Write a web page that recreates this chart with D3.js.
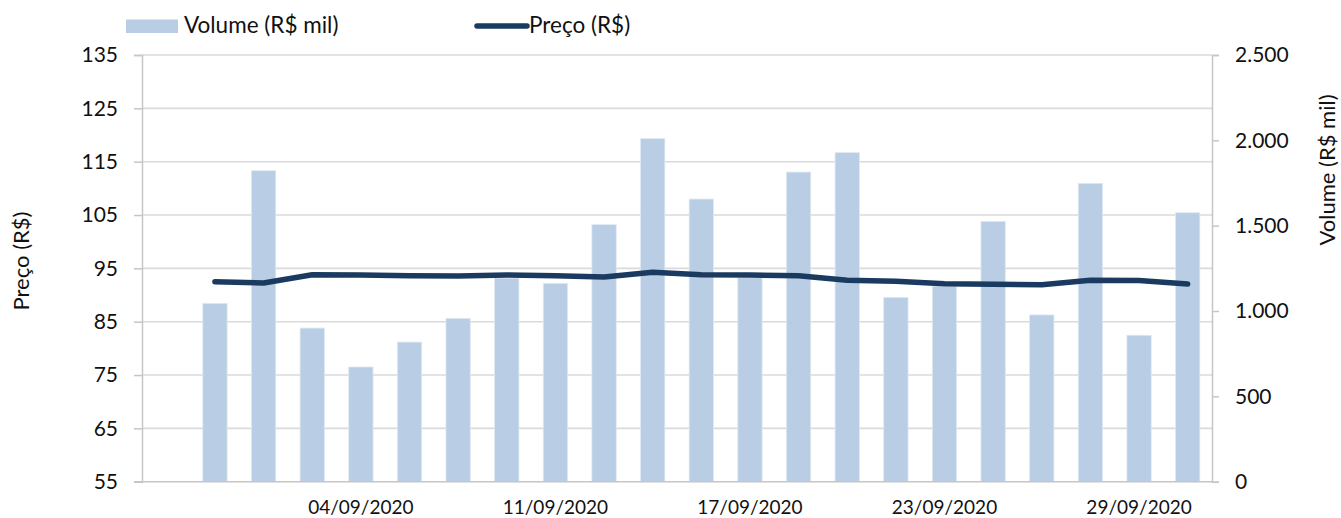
<!DOCTYPE html>
<html>
<head>
<meta charset="utf-8">
<script src="https://cdn.jsdelivr.net/npm/d3@7"></script>
<style>
  body { margin: 0; background: #fff; }
  text { font-family: Lato, "Open Sans", sans-serif; fill: #111; }
</style>
</head>
<body>
<script>
// categories (first one is blank in the source sheet)
const dates = ["", "01/09/2020", "02/09/2020", "03/09/2020", "04/09/2020", "08/09/2020",
  "09/09/2020", "10/09/2020", "11/09/2020", "14/09/2020", "15/09/2020", "16/09/2020",
  "17/09/2020", "18/09/2020", "21/09/2020", "22/09/2020", "23/09/2020", "24/09/2020",
  "25/09/2020", "28/09/2020", "29/09/2020", "30/09/2020"];

// volume (R$ mil), right axis
const volume = [null, 1045, 1822, 900, 672, 818, 957, 1193, 1162, 1506, 2010, 1656,
  1195, 1814, 1928, 1080, 1145, 1525, 977, 1748, 858, 1576];

// preço (R$), left axis
const price = [null, 92.5, 92.26, 93.8, 93.75, 93.6, 93.57, 93.75, 93.63, 93.38, 94.26,
  93.8, 93.75, 93.63, 92.76, 92.57, 92.13, 92.0, 91.94, 92.76, 92.7, 92.07];

const leftTicks = [55, 65, 75, 85, 95, 105, 115, 125, 135];
const rightTicks = [0, 500, 1000, 1500, 2000, 2500];

const W = 1341, H = 518;
const plotL = 142, plotR = 1212, plotT = 55, plotB = 481.7;

const svg = d3.select('body').append('svg')
    .attr('width', W)
    .attr('height', H);

const x = d3.scaleBand()
    .domain(d3.range(dates.length))
    .range([plotL, plotR])
    .paddingInner(0.5)
    .paddingOuter(0.25);

const yL = d3.scaleLinear().domain([55, 135]).range([plotB, plotT]);
const yR = d3.scaleLinear().domain([0, 2500]).range([plotB, plotT]);

const fmt = d3.formatLocale({ decimal: ',', thousands: '.', grouping: [3], currency: ['R$', ''] }).format(',.0f');

// gridlines
svg.append('g')
    .selectAll('line')
    .data(leftTicks.slice(1))
    .join('line')
    .attr('x1', plotL).attr('x2', plotR)
    .attr('y1', d => yL(d)).attr('y2', d => yL(d))
    .attr('stroke', '#dadada')
    .attr('stroke-width', 1.6);

// bars
svg.append('g')
    .selectAll('rect')
    .data(volume.map((v, i) => ({ v, i })).filter(d => d.v != null))
    .join('rect')
    .attr('x', d => x(d.i))
    .attr('width', x.bandwidth())
    .attr('y', d => yR(d.v))
    .attr('height', d => yR(0) - yR(d.v))
    .attr('fill', '#b9cde4')
    .attr('stroke', '#dfe8f3')
    .attr('stroke-width', 0.8);

// left axis
const axL = svg.append('g')
    .attr('transform', `translate(${plotL},0)`)
    .call(d3.axisLeft(yL).tickValues(leftTicks).tickSize(8).tickPadding(16));
axL.select('.domain').attr('stroke', '#c6c6c6').attr('stroke-width', 1.5);
axL.selectAll('.tick line').attr('stroke', '#c6c6c6').attr('stroke-width', 1.5);
axL.selectAll('.tick text').style('font-size', '21px').attr('fill', '#111').attr('font-family', null);

// right axis
const axR = svg.append('g')
    .attr('transform', `translate(${plotR},0)`)
    .call(d3.axisRight(yR).tickValues(rightTicks).tickFormat(fmt).tickSize(7).tickPadding(16));
axR.select('.domain').attr('stroke', '#c6c6c6').attr('stroke-width', 1.5);
axR.selectAll('.tick line').attr('stroke', '#c6c6c6').attr('stroke-width', 1.5);
axR.selectAll('.tick text').style('font-size', '21px').attr('fill', '#111').attr('font-family', null);

// bottom axis
const axB = svg.append('g')
    .attr('transform', `translate(0,${plotB})`)
    .call(d3.axisBottom(x)
        .tickValues(d3.range(dates.length).filter(i => i % 4 === 0 && dates[i] !== ''))
        .tickFormat(i => dates[i])
        .tickSize(0)
        .tickPadding(19));
axB.select('.domain').remove();
axB.selectAll('.tick text').style('font-size', '19px').attr('fill', '#111').attr('font-family', null);
svg.append('line')
    .attr('x1', plotL - 8).attr('x2', plotR)
    .attr('y1', plotB).attr('y2', plotB)
    .attr('stroke', '#c6c6c6').attr('stroke-width', 1.5);

// price line
const line = d3.line()
    .defined(d => d != null)
    .x((d, i) => x(i) + x.bandwidth() / 2)
    .y(d => yL(d));

svg.append('path')
    .datum(price)
    .attr('d', line)
    .attr('fill', 'none')
    .attr('stroke', '#1a3a60')
    .attr('stroke-width', 5.5)
    .attr('stroke-linejoin', 'round')
    .attr('stroke-linecap', 'round');

// axis titles
svg.append('text')
    .attr('transform', 'translate(29,261) rotate(-90)')
    .attr('text-anchor', 'middle')
    .style('font-size', '22px')
    .text('Preço (R$)');

svg.append('text')
    .attr('transform', 'translate(1335,170) rotate(-90)')
    .attr('text-anchor', 'middle')
    .style('font-size', '22px')
    .text('Volume (R$ mil)');

// legend
const lg = svg.append('g');
lg.append('rect')
    .attr('x', 126).attr('y', 19.5)
    .attr('width', 52).attr('height', 13.5)
    .attr('fill', '#b9cde4');
lg.append('text')
    .attr('x', 184).attr('y', 33.3)
    .style('font-size', '22.5px')
    .text('Volume (R$ mil)');
lg.append('line')
    .attr('x1', 477).attr('x2', 527)
    .attr('y1', 26).attr('y2', 26)
    .attr('stroke', '#1a3a60')
    .attr('stroke-width', 5.5)
    .attr('stroke-linecap', 'round');
lg.append('text')
    .attr('x', 529).attr('y', 33.3)
    .style('font-size', '22.5px')
    .text('Preço (R$)');
</script>
</body>
</html>
